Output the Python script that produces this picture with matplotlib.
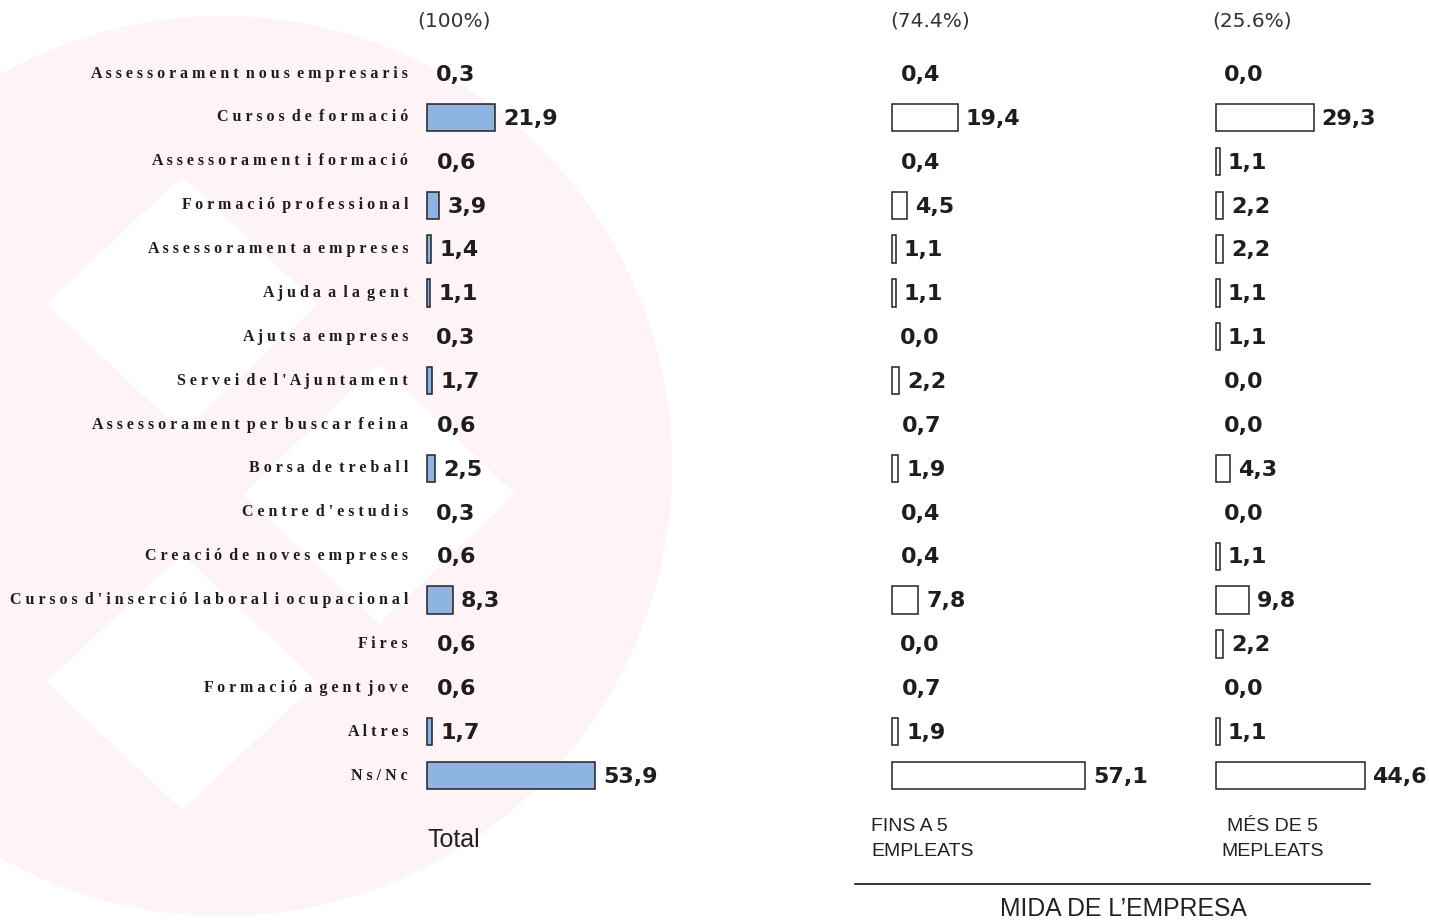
import matplotlib
matplotlib.use("Agg")
import matplotlib.pyplot as plt
from matplotlib.patches import Circle, Polygon
from matplotlib.transforms import offset_copy

# data
categories = [
    "Assessorament nous empresaris", "Cursos de formació", "Assessorament i formació",
    "Formació professional", "Assessorament a empreses", "Ajuda a la gent",
    "Ajuts a empreses", "Servei de l'Ajuntament", "Assessorament per buscar feina",
    "Borsa de treball", "Centre d'estudis", "Creació de noves empreses",
    "Cursos d'inserció laboral i ocupacional", "Fires", "Formació a gent jove",
    "Altres", "Ns/Nc",
]
total = [0.3, 21.9, 0.6, 3.9, 1.4, 1.1, 0.3, 1.7, 0.6, 2.5, 0.3, 0.6, 8.3, 0.6, 0.6, 1.7, 53.9]
fins_5 = [0.4, 19.4, 0.4, 4.5, 1.1, 1.1, 0.0, 2.2, 0.7, 1.9, 0.4, 0.4, 7.8, 0.0, 0.7, 1.9, 57.1]
mes_5 = [0.0, 29.3, 1.1, 2.2, 2.2, 1.1, 1.1, 0.0, 0.0, 4.3, 0.0, 1.1, 9.8, 2.2, 0.0, 1.1, 44.6]

shares = ["(100%)", "(74.4%)", "(25.6%)"]
col_names = ["Total", ["FINS A 5", "EMPLEATS"], ["MÉS DE 5", "MEPLEATS"]]
group_name = "MIDA DE L\u2019EMPRESA"

W, H = 1429, 921
fig = plt.figure(figsize=(W / 100, H / 100), dpi=100)

# background watermark, in pixel coordinates
bg = fig.add_axes([0, 0, 1, 1], zorder=0)
bg.set_xlim(0, W)
bg.set_ylim(H, 0)
bg.axis("off")
pink = "#fef3f6"
bg.add_patch(Circle((222, 466), 450, color=pink, lw=0))
for cx, cy, hw, hh in [(182, 304, 136, 128), (182, 682, 136, 128), (379, 494, 136, 130)]:
    bg.add_patch(Polygon([(cx - hw, cy), (cx, cy - hh), (cx + hw, cy), (cx, cy + hh)],
                         closed=True, color="white", lw=0))

# row geometry
row0, pitch = 73.6, 43.87
n = len(categories)
ylim = ((H - row0) / pitch, -row0 / pitch)


def spaced(s):
    # wide letter spacing like the original labels
    return " \u2009".join(" ".join(w) for w in s.split(" "))


def panel(x0, ppu, values, face):
    xmax = 80
    ax = fig.add_axes([x0 / W, 0, xmax * ppu / W, 1], zorder=1)
    ax.patch.set_alpha(0)
    ax.set_xlim(0, xmax)
    ax.set_ylim(*ylim)
    ax.axis("off")
    ys = list(range(n))
    # bars under 1 % are not drawn in the original
    big = [(y, v) for y, v in zip(ys, values) if v >= 1]
    ax.barh([b[0] for b in big], [b[1] for b in big], height=0.62, color=face,
            edgecolor="#222222", linewidth=1.1, clip_on=False)
    tr = offset_copy(ax.transData, fig=fig, x=8, y=0, units="dots")
    for y, v in zip(ys, values):
        ax.text(v, y + 0.03, f"{v:.1f}".replace(".", ","), transform=tr, ha="left",
                va="center", fontsize=16, fontweight="bold", family="DejaVu Sans",
                color="#1e1e1e", clip_on=False)
    return ax


ax_t = panel(427, 3.117, total, "#8db4e2")
ax_f = panel(892, 3.38, fins_5, "white")
ax_m = panel(1216, 3.33, mes_5, "white")

lab_tr = offset_copy(ax_t.transData, fig=fig, x=-19, y=0, units="dots")
for i, c in enumerate(categories):
    ax_t.text(0, i, spaced(c), transform=lab_tr, ha="right", va="center",
              fontsize=11.5, fontweight="bold", family=["Liberation Serif", "DejaVu Serif"],
              color="#1e1e1e")

# headers and footers
for cx, s in zip([454, 930, 1252], shares):
    bg.text(cx, 21, s, ha="center", va="center", fontsize=14.5, family="DejaVu Sans",
            color="#333333")
bg.text(454, 840, col_names[0], ha="center", va="center", fontsize=18,
        family="Liberation Sans", color="#222222")
for k, line in enumerate(col_names[1]):
    bg.text(871, 826 + 25 * k, line, ha="left", va="center", fontsize=14,
            family="Liberation Sans", color="#222222")
for k, line in enumerate(col_names[2]):
    bg.text(1273, 826 + 25 * k, line, ha="center", va="center", fontsize=14,
            family="Liberation Sans", color="#222222")
bg.plot([855, 1370], [884, 884], color="#111111", lw=1.2)
bg.text(1123, 909, group_name, ha="center", va="center", fontsize=17.8,
        family="Liberation Sans", color="#222222")

fig.savefig("out.png", dpi=100, facecolor="white")
